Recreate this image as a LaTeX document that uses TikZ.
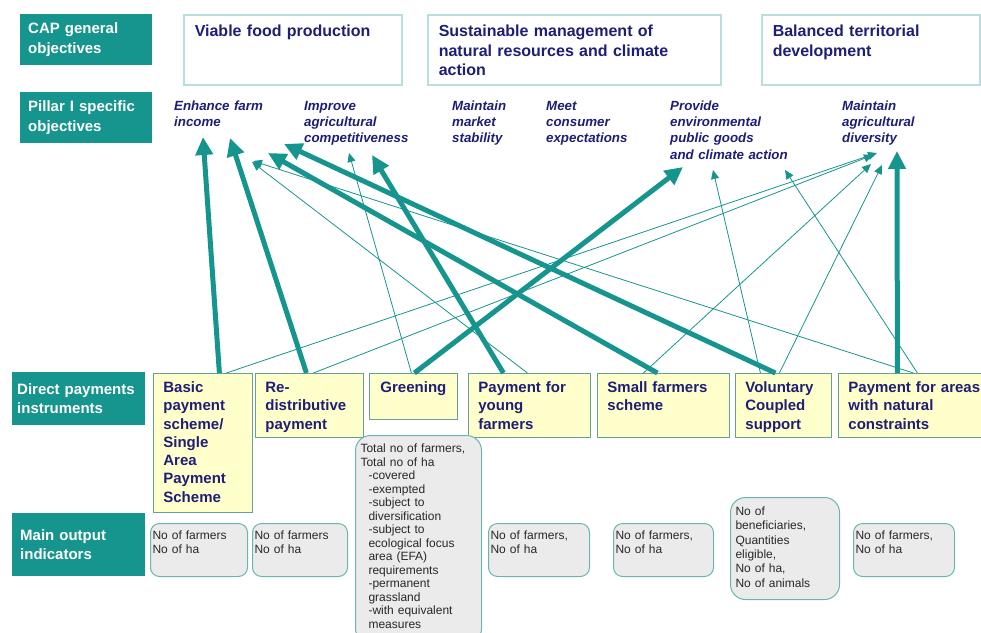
\documentclass[tikz,border=0pt]{standalone}
\usepackage{fontspec}
\setmainfont{Liberation Sans}
\usetikzlibrary{arrows.meta}
\definecolor{capteal}{RGB}{22,148,142}
\definecolor{capnavy}{RGB}{30,30,120}
\definecolor{goalline}{RGB}{185,222,222}
\definecolor{toolfill}{RGB}{255,255,204}
\definecolor{toolline}{RGB}{105,160,150}
\definecolor{outfill}{RGB}{235,235,235}
\definecolor{outline}{RGB}{105,182,174}
\definecolor{outtext}{RGB}{40,40,40}

\begin{document}
\begin{tikzpicture}[x=1pt, y=-1pt,
    rowlabel/.style={fill=capteal, text=white, anchor=north west,
      inner xsep=8pt, inner ysep=0pt, align=left,
      font=\bfseries\fontsize{15}{19.5}\selectfont},
    goalbox/.style={draw=goalline, line width=1.5pt, fill=white, anchor=north west,
      inner xsep=11pt, inner ysep=10pt, text height=12pt, align=left, text=capnavy,
      font=\bfseries\fontsize{16}{19.5}\selectfont},
    aimtext/.style={anchor=north west, inner sep=0pt, text height=10pt, align=left,
      text=capnavy, font=\bfseries\itshape\fontsize{13.3}{16.3}\selectfont},
    toolbox/.style={draw=toolline, line width=0.8pt, fill=toolfill, anchor=north west,
      inner xsep=10pt, inner ysep=8pt, text height=11pt, align=left, text=capnavy,
      font=\bfseries\fontsize{15}{18.3}\selectfont},
    outbox/.style={draw=outline, line width=1pt, fill=outfill, rounded corners=9pt,
      anchor=north west, inner xsep=2pt, inner ysep=6pt, text height=10pt, align=left,
      text=outtext, font=\fontsize{12}{14.3}\selectfont}]
  \useasboundingbox (0,0) rectangle (981,632);
  \clip (0,0) rectangle (981,632);

  % row headings
  \draw
    (20,14) node[rowlabel, text width=116pt, minimum height=51pt] (caprow){CAP general\\objectives}
    (20,92) node[rowlabel, text width=116pt, minimum height=51pt] (pillarrow){Pillar I specific\\objectives}
    (12,372) node[rowlabel, inner xsep=5pt, text width=123pt, minimum height=53pt] (toolrow){\mbox{Direct payments}\\instruments}
    (12,513) node[rowlabel, text width=117pt, minimum height=63pt] (outrow){Main output\\indicators};

  % general objectives
  \draw
    (183,14) node[goalbox, text width=196pt, text depth=38pt] (viable){Viable food production}
    (427,14) node[goalbox, text width=271pt, text depth=38pt] (sustain){Sustainable management of\\natural resources and climate\\action}
    (761,14) node[goalbox, text width=196pt, text depth=38pt] (balance){Balanced territorial\\development};

  % specific objectives
  \draw
    (174,100) node[aimtext, text width=120pt] (income){Enhance farm\\income}
    (304,100) node[aimtext, text width=125pt] (compet){Improve\\agricultural\\competitiveness}
    (452,100) node[aimtext, text width=80pt] (market){Maintain\\market\\stability}
    (546,100) node[aimtext, text width=105pt] (consumer){Meet\\consumer\\expectations}
    (670,100) node[aimtext, text width=125pt] (environ){Provide\\environmental\\public goods\\and climate action}
    (842,100) node[aimtext, text width=110pt] (diverse){Maintain\\agricultural\\diversity};

  % instruments
  \draw
    (153,373) node[toolbox, text width=79pt, text depth=112pt] (basic){Basic\\payment\\scheme/\\Single\\Area\\Payment\\Scheme}
    (255,373) node[toolbox, text width=88pt, text depth=37pt] (redist){Re-\\distributive\\payment}
    (369,373) node[toolbox, text width=68pt, text depth=19pt, align=center] (greening){Greening}
    (468,373) node[toolbox, text width=102pt, text depth=37pt] (young){Payment for\\young\\farmers}
    (597,373) node[toolbox, text width=112pt, text depth=37pt] (small){Small farmers\\scheme}
    (735,373) node[toolbox, text width=76pt, text depth=37pt] (coupled){Voluntary\\Coupled\\support}
    (838,373) node[toolbox, text width=132pt, text depth=37pt] (areas){Payment for areas\\with natural\\constraints};

  % indicators
  \draw
    (150,523) node[outbox, text width=93pt, text depth=31pt] (ibasic){No of farmers\\No of ha}
    (252,523) node[outbox, text width=91pt, text depth=31pt] (iredist){No of farmers\\No of ha}
    (355,435) node[outbox, rounded corners=15pt, inner xsep=5pt, inner ysep=7pt, text width=116pt, text depth=184pt,
      font=\fontsize{12}{13.5}\selectfont] (igreening){Total no of farmers,\\Total no of ha\\\hspace*{8pt}-covered\\\hspace*{8pt}-exempted\\\hspace*{8pt}-subject to\\\hspace*{8pt}diversification\\\hspace*{8pt}-subject to\\\hspace*{8pt}ecological focus\\\hspace*{8pt}area (EFA)\\\hspace*{8pt}requirements\\\hspace*{8pt}-permanent\\\hspace*{8pt}grassland\\\hspace*{8pt}-with equivalent\\\hspace*{8pt}measures}
    (488,523) node[outbox, text width=97pt, text depth=31pt] (iyoung){No of farmers,\\No of ha}
    (613,523) node[outbox, text width=96pt, text depth=31pt] (ismall){No of farmers,\\No of ha}
    (730,497) node[outbox, rounded corners=15pt, inner xsep=5pt, inner ysep=8pt, text width=99pt, text depth=76pt] (icoupled){No of\\beneficiaries,\\Quantities\\eligible,\\No of ha,\\No of animals}
    (853,523) node[outbox, text width=97pt, text depth=31pt] (iareas){No of farmers,\\No of ha};

  % strong links
  \begin{scope}[capteal, line width=5pt, -{Triangle[length=18pt,width=17pt]}]
    \draw ([shift={(16.5,0)}]basic.north) to ([shift={(29,37)}]income.north west);
    \draw ([shift={(-3,0)}]redist.north) to ([shift={(56,38)}]income.north west);
    \draw ([shift={(1,0)}]greening.north) to ([shift={(13,67)}]environ.north west);
    \draw ([shift={(-26,0)}]young.north) to ([shift={(68,55)}]compet.north west);
    \draw ([shift={(-6,0)}]small.north) to ([shift={(-36,53)}]compet.north west);
    \draw ([shift={(-8,0)}]coupled.north) to ([shift={(-20,44)}]compet.north west);
    \draw ([shift={(-17,0)}]areas.north) to ([shift={(55,51)}]diverse.north west);
  \end{scope}

  % weak links
  \begin{scope}[capteal, line width=0.8pt, -{Triangle[length=9pt,width=8pt]}]
    \draw ([shift={(23.5,0)}]basic.north) to ([shift={(35,53)}]diverse.north west);
    \draw ([shift={(4,0)}]redist.north) to ([shift={(31,55)}]diverse.north west);
    \draw ([shift={(-2,0)}]greening.north) to ([shift={(45,53)}]compet.north west);
    \draw ([shift={(-2,0)}]young.north) to ([shift={(78,62)}]income.north west);
    \draw ([shift={(-1,0)}]areas.north) to ([shift={(79,61)}]income.north west);
    \draw ([shift={(-20,0)}]small.north) to ([shift={(29,64)}]diverse.north west);
    \draw ([shift={(-23,0)}]coupled.north) to ([shift={(43,70)}]environ.north west);
    \draw ([shift={(-4,0)}]coupled.north) to ([shift={(40,65)}]diverse.north west);
    \draw ([shift={(3,0)}]areas.north) to ([shift={(115,70)}]environ.north west);
  \end{scope}
\end{tikzpicture}
\end{document}
